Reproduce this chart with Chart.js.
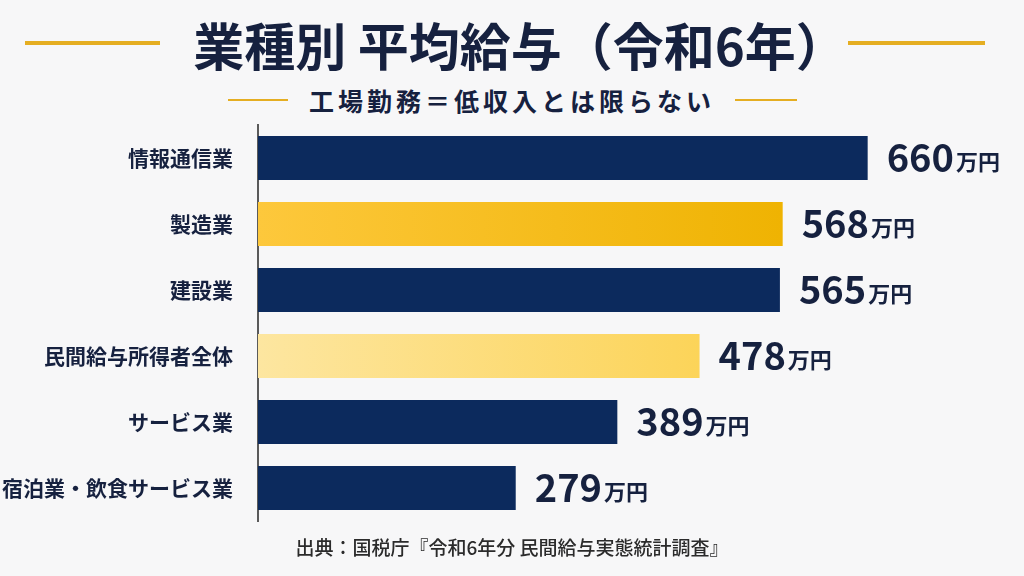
<!DOCTYPE html>
<html lang="ja">
<head>
<meta charset="UTF-8">
<title>業種別 平均給与（令和6年）</title>
<script src="https://cdn.jsdelivr.net/npm/chart.js@4.4.1/dist/chart.umd.min.js"></script>
<style>
  body { margin: 0; background: #f7f7f8; font-family: "Noto Sans CJK JP", sans-serif; }
  #wrap { position: relative; width: 1024px; height: 576px; overflow: hidden; }
  #chart { position: absolute; left: 0; top: 0; }
  .title { position: absolute; left: 8px; top: 14px; width: 1024px; text-align: center;
           font-size: 51px; line-height: 60px; font-weight: 700; color: #16213f; }
  .subtitle { position: absolute; left: 0; top: 85px; width: 1024px; text-align: center;
              font-size: 25px; line-height: 30px; font-weight: 700; color: #16213f; letter-spacing: 4px; }
  .source { position: absolute; left: 0; top: 536px; width: 1024px; text-align: center;
            font-size: 19px; line-height: 22px; font-weight: 500; color: #2b2b2b; }
  .rule { position: absolute; background: #e5ae22; }
</style>
</head>
<body>
<div id="wrap">
  <div class="rule" style="left:25px;top:41px;width:135px;height:4px;"></div>
  <div class="rule" style="left:848px;top:41px;width:137px;height:4px;"></div>
  <div class="title">業種別 平均給与（令和6年）</div>

  <div class="rule" style="left:228px;top:99px;width:60px;height:2px;"></div>
  <div class="rule" style="left:735px;top:99px;width:62px;height:2px;"></div>
  <div class="subtitle">工場勤務＝低収入とは限らない</div>

  <canvas id="chart" width="1024" height="576"></canvas>

  <div class="source">出典：国税庁『令和6年分 民間給与実態統計調査』</div>
</div>

<script>
  // data (万円)
  const categories = ['情報通信業', '製造業', '建設業', '民間給与所得者全体', 'サービス業', '宿泊業・飲食サービス業'];
  const salaries = [660, 568, 565, 478, 389, 279];
  const unitLabel = '万円';

  const FONT = '"Noto Sans CJK JP", sans-serif';
  const NAVY = '#0c2a5d';
  const TEXT = '#16213f';

  // navy for most bars, gold gradients for the highlighted ones
  function barFill(c) {
    const chart = c.chart;
    if (!chart.chartArea) return NAVY;
    const name = categories[c.dataIndex];
    const x = chart.scales.x;
    const x0 = x.getPixelForValue(0);
    const x1 = x.getPixelForValue(c.raw);
    let g;
    if (name === '製造業') {
      g = chart.ctx.createLinearGradient(x0, 0, x1, 0);
      g.addColorStop(0, '#fdc83c');
      g.addColorStop(1, '#efb302');
      return g;
    }
    if (name === '民間給与所得者全体') {
      g = chart.ctx.createLinearGradient(x0, 0, x1, 0);
      g.addColorStop(0, '#fde6a0');
      g.addColorStop(1, '#fcd459');
      return g;
    }
    return NAVY;
  }

  // "660万円" style labels at the end of each bar
  const valueLabels = {
    id: 'valueLabels',
    afterDatasetsDraw(chart) {
      const ctx = chart.ctx;
      const meta = chart.getDatasetMeta(0);
      meta.data.forEach(function (bar, i) {
        const v = String(salaries[i]);
        const x = bar.x + 19;
        ctx.save();
        ctx.fillStyle = TEXT;
        ctx.textAlign = 'left';
        ctx.textBaseline = 'alphabetic';
        ctx.font = 'bold 38px ' + FONT;
        ctx.fillText(v, x, bar.y + 14);
        const w = ctx.measureText(v).width;
        ctx.font = 'bold 22px ' + FONT;
        ctx.fillText(unitLabel, x + w + 2, bar.y + 12);
        ctx.restore();
      });
    }
  };

  new Chart(document.getElementById('chart'), {
    type: 'bar',
    data: {
      labels: categories,
      datasets: [{
        data: salaries,
        backgroundColor: barFill,
        borderWidth: 0,
        categoryPercentage: 1,
        barPercentage: 0.67
      }]
    },
    options: {
      indexAxis: 'y',
      responsive: false,
      animation: false,
      layout: { padding: { top: 125, bottom: 55, right: 27, left: 0 } },
      plugins: {
        legend: { display: false },
        tooltip: { enabled: false }
      },
      scales: {
        x: { display: false, min: 0, max: 800 },
        y: {
          grid: { display: false, drawTicks: false },
          border: { display: true, color: '#5a5a5a', width: 2 },
          ticks: { color: TEXT, padding: 25, font: { family: FONT, size: 21, weight: 'bold' } },
          afterFit: function (s) { s.width = 258; }
        }
      }
    },
    plugins: [valueLabels]
  });
</script>
</body>
</html>
